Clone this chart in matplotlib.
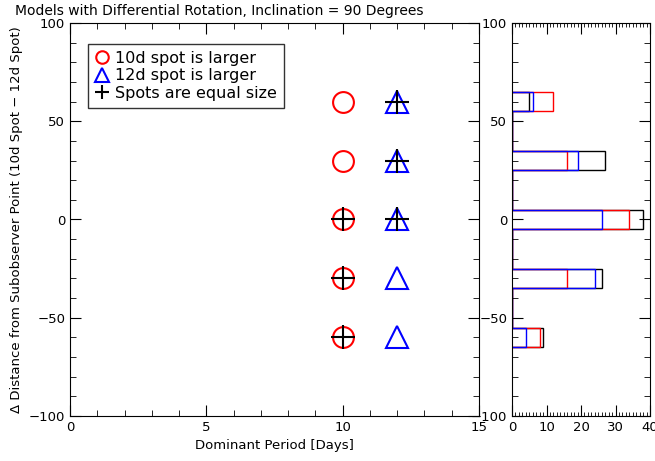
import numpy as np
import matplotlib
matplotlib.use("Agg")
import matplotlib.pyplot as plt
from matplotlib.ticker import MultipleLocator

# spot offsets (10d spot - 12d spot)
offsets = [60, 30, 0, -30, -60]
red_period = [10, 10, 10, 10, 10]
blue_period = [12, 12, 12, 12, 12]
equal_x = [10, 10, 10, 12, 12, 12]
equal_y = [0, -30, -60, 60, 30, 0]

# histogram on the right: bin centres -60..60, width 10
hist_centres = np.arange(-60, 61, 10)
hist_black = [9, 0, 0, 26, 0, 0, 38, 0, 0, 27, 0, 0, 5]
hist_red = [8, 0, 0, 16, 0, 0, 34, 0, 0, 16, 0, 0, 12]
hist_blue = [4, 0, 0, 24, 0, 0, 26, 0, 0, 19, 0, 0, 6]

plt.rcParams['font.family'] = ['DejaVu Sans']
plt.rcParams['font.size'] = 10

fig = plt.figure(figsize=(6.55, 4.61), dpi=100)
W, H = 655, 461
ax = fig.add_axes([70 / W, 1 - 416 / H, (479 - 70) / W, (416 - 23) / H])
ax2 = fig.add_axes([512 / W, 1 - 416 / H, (650 - 512) / W, (416 - 23) / H])

ax.plot(red_period, offsets, 'o', ms=15, mfc='none', mec='red', mew=1.5, label='10d spot is larger')
ax.plot(blue_period, offsets, '^', ms=16, mfc='none', mec='blue', mew=1.5, label='12d spot is larger')
ax.plot(equal_x, equal_y, '+', ms=17, color='black', mew=1.5, label='Spots are equal size')

ax.set_xlim(0, 15)
ax.set_ylim(-100, 100)
ax.xaxis.set_major_locator(MultipleLocator(5))
ax.xaxis.set_minor_locator(MultipleLocator(1))
ax.yaxis.set_major_locator(MultipleLocator(50))
ax.yaxis.set_minor_locator(MultipleLocator(10))
ax.tick_params(which='both', direction='in', top=True, right=True, labelsize=9.5)
ax.tick_params(which='major', length=8)
ax.tick_params(which='minor', length=4)
ax.set_xlabel('Dominant Period [Days]', fontsize=9.5)
ax.set_ylabel('Δ Distance from Subobserver Point (10d Spot − 12d Spot)', fontsize=9.5)

leg = ax.legend(loc='upper left', bbox_to_anchor=(0.025, 0.968), frameon=True, fancybox=False,
                edgecolor='black', markerscale=0.6, handlelength=0.8, handletextpad=0.4,
                borderpad=0.45, labelspacing=0.15, fontsize=11.5)
leg.get_frame().set_linewidth(1.0)

edges = np.append(hist_centres - 5, hist_centres[-1] + 5)
ax2.stairs(hist_black, edges, orientation='horizontal', baseline=0, color='black', lw=1)
ax2.stairs(hist_red, edges, orientation='horizontal', baseline=0, color='red', lw=1)
ax2.stairs(hist_blue, edges, orientation='horizontal', baseline=0, color='blue', lw=1)
ax2.set_xlim(0, 40)
ax2.set_ylim(-100, 100)
ax2.xaxis.set_major_locator(MultipleLocator(10))
ax2.xaxis.set_minor_locator(MultipleLocator(1))
ax2.yaxis.set_major_locator(MultipleLocator(50))
ax2.yaxis.set_minor_locator(MultipleLocator(10))
ax2.tick_params(which='both', direction='in', top=True, right=True, labelsize=9.5)
ax2.tick_params(which='major', length=8)
ax2.tick_params(which='minor', length=4)
ax2.tick_params(axis='x', which='minor', length=3)

fig.text(219 / W, 1 - 11 / H, 'Models with Differential Rotation, Inclination = 90 Degrees',
         ha='center', va='center', fontsize=10)

fig.savefig('out.png', dpi=100)
